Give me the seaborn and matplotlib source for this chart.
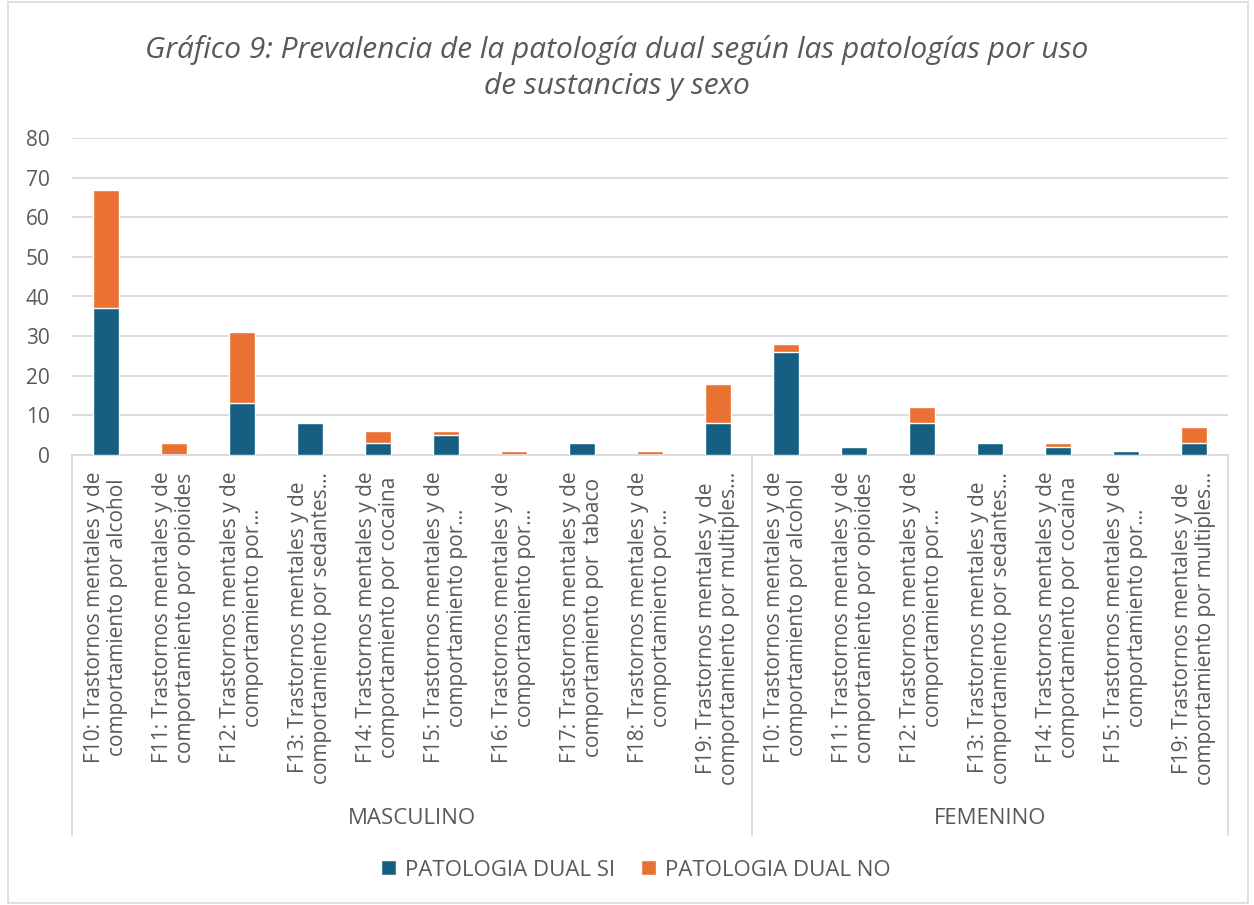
import numpy as np
import pandas as pd
import matplotlib.pyplot as plt
import seaborn as sns
from matplotlib.patches import Rectangle
import matplotlib.transforms as mtransforms

# categories (two-line labels as in the chart)
masc_labels = [
    "F10: Trastornos mentales y de\ncomportamiento por alcohol",
    "F11: Trastornos mentales y de\ncomportamiento por opioides",
    "F12: Trastornos mentales y de\ncomportamiento por…",
    "F13: Trastornos mentales y de\ncomportamiento por sedantes…",
    "F14: Trastornos mentales y de\ncomportamiento por cocaina",
    "F15: Trastornos mentales y de\ncomportamiento por…",
    "F16: Trastornos mentales y de\ncomportamiento por…",
    "F17: Trastornos mentales y de\ncomportamiento por  tabaco",
    "F18: Trastornos mentales y de\ncomportamiento por…",
    "F19: Trastornos mentales y de\ncomportamiento por multiples…",
]
fem_labels = [
    "F10: Trastornos mentales y de\ncomportamiento por alcohol",
    "F11: Trastornos mentales y de\ncomportamiento por opioides",
    "F12: Trastornos mentales y de\ncomportamiento por…",
    "F13: Trastornos mentales y de\ncomportamiento por sedantes…",
    "F14: Trastornos mentales y de\ncomportamiento por cocaina",
    "F15: Trastornos mentales y de\ncomportamiento por…",
    "F19: Trastornos mentales y de\ncomportamiento por multiples…",
]
groups = ["MASCULINO", "FEMENINO"]

# values
masc_si = [37, 0, 13, 8, 3, 5, 0, 3, 0, 8]
masc_no = [30, 3, 18, 0, 3, 1, 1, 0, 1, 10]
fem_si = [26, 2, 8, 3, 2, 1, 3]
fem_no = [2, 0, 4, 0, 1, 0, 4]

blue = "#156082"
orange = "#E97132"
txt = "#595959"
grid = "#D9D9D9"

labels = masc_labels + fem_labels
keys = [f"M{i}" for i in range(len(masc_labels))] + [f"W{i}" for i in range(len(fem_labels))]
si = np.array(masc_si + fem_si)
no = np.array(masc_no + fem_no)
df = pd.DataFrame({"key": keys, "si": si, "total": si + no})

sns.set_style("white")
plt.rcParams["font.family"] = ["Open Sans", "DejaVu Sans"]

fig = plt.figure(figsize=(12.54, 9.05), dpi=100)
ax = fig.add_axes([72 / 1254, 1 - 455 / 905, (1228 - 72) / 1254, (455 - 138) / 905])

sns.barplot(data=df, x="key", y="total", order=keys, color=orange, width=0.38,
            saturation=1, ax=ax, zorder=2, label="PATOLOGIA DUAL NO")
sns.barplot(data=df, x="key", y="si", order=keys, color=blue, width=0.38,
            saturation=1, ax=ax, zorder=3, label="PATOLOGIA DUAL SI")

ax.set_ylim(0, 80)
ax.set_xlim(-0.5, len(keys) - 0.5)
ax.set_yticks(range(0, 81, 10))
ax.yaxis.grid(True, color=grid, linewidth=1.3, zorder=0)
ax.set_axisbelow(True)
for s in ["top", "right", "left"]:
    ax.spines[s].set_visible(False)
ax.spines["bottom"].set_color(grid)
ax.spines["bottom"].set_linewidth(1.3)
ax.set_xlabel("")
ax.set_ylabel("")
ax.set_xticks(range(len(keys)))
ax.set_xticklabels(labels, rotation=90, multialignment="center", fontsize=15,
                   color=txt, linespacing=1.15)
ax.tick_params(axis="x", length=0, pad=12)
ax.tick_params(axis="y", length=0, labelsize=15, labelcolor=txt, pad=16)

# group separators and labels
trans = mtransforms.blended_transform_factory(ax.transData, ax.transAxes)
bottom_y = -(835 - 455) / (455 - 138)
for xv in [-0.5, len(masc_labels) - 0.5, len(keys) - 0.5]:
    ax.plot([xv, xv], [0, bottom_y], transform=trans, color=grid, lw=1.3, clip_on=False)
label_y = -(818 - 455) / (455 - 138)
ax.text((len(masc_labels) - 1) / 2, label_y, groups[0], transform=trans, ha="center",
        va="center", fontsize=16, color=txt)
ax.text(len(masc_labels) + (len(fem_labels) - 1) / 2, label_y, groups[1], transform=trans,
        ha="center", va="center", fontsize=16, color=txt)

# legend
handles, lbls = ax.get_legend_handles_labels()
order = [lbls.index("PATOLOGIA DUAL SI"), lbls.index("PATOLOGIA DUAL NO")]
fig.legend([handles[i] for i in order], [lbls[i] for i in order], loc="center",
           bbox_to_anchor=(0.507, 1 - 870 / 905), ncol=2, frameon=False, fontsize=16,
           labelcolor=txt, handlelength=0.65, handleheight=0.65, columnspacing=1.2,
           handletextpad=0.4)
if ax.get_legend() is not None:
    ax.get_legend().remove()

fig.text(0.492, 1 - 68 / 905,
         "Gráfico 9: Prevalencia de la patología dual según las patologías por uso\nde sustancias y sexo",
         ha="center", va="center", fontsize=21.5, style="italic", color=txt, linespacing=1.33)

fig.patches.append(Rectangle((8 / 1254, 2 / 905), 1240 / 1254, 901 / 905, transform=fig.transFigure,
                             fill=False, edgecolor=grid, lw=1.2))

fig.savefig("out.png", dpi=100)
